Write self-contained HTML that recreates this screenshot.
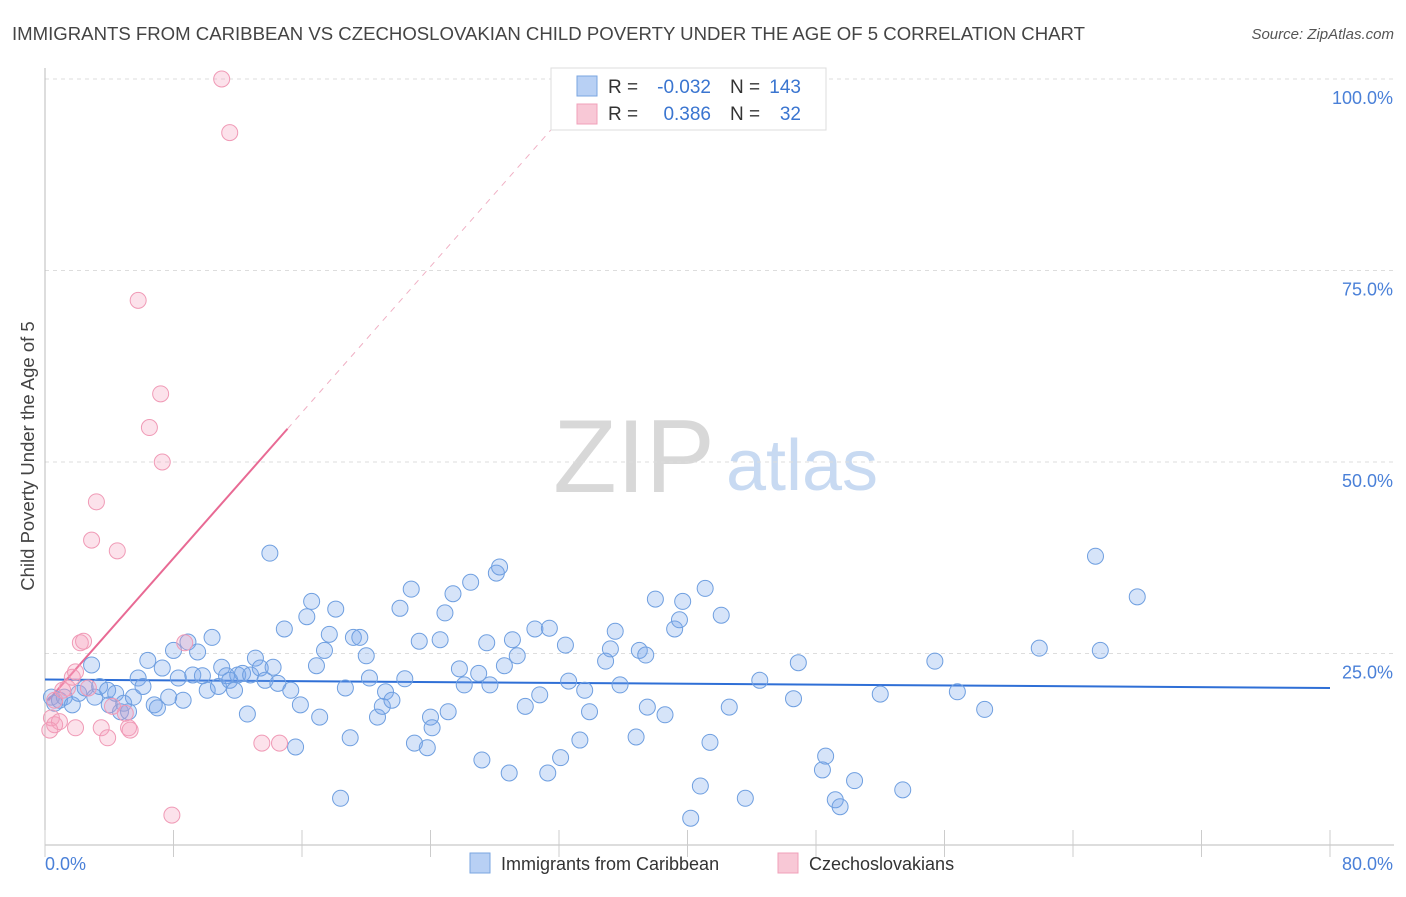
<!DOCTYPE html>
<html><head><meta charset="utf-8"><style>
body{margin:0;background:#fff;font-family:"Liberation Sans",sans-serif;}
svg text{font-family:"Liberation Sans",sans-serif;}
</style></head><body>
<svg id="chart" width="1406" height="892" xmlns="http://www.w3.org/2000/svg">
<text x="12" y="40" font-size="18" fill="#444" textLength="1073" lengthAdjust="spacingAndGlyphs">IMMIGRANTS FROM CARIBBEAN VS CZECHOSLOVAKIAN CHILD POVERTY UNDER THE AGE OF 5 CORRELATION CHART</text>
<text x="1394" y="39" font-size="15" fill="#555" text-anchor="end" font-style="italic">Source: ZipAtlas.com</text>
<g>
<text x="634" y="492" font-size="104" fill="#d8d8d8" text-anchor="middle" font-family="Liberation Serif">ZIP</text>
<text x="802" y="490" font-size="72" fill="#c8daf2" text-anchor="middle">atlas</text>
</g>
<g id="grid"></g><g id="axes"></g><g id="trends"></g><g id="points"></g>
<text transform="translate(34,456) rotate(-90)" font-size="18.5" fill="#444" text-anchor="middle">Child Poverty Under the Age of 5</text>
<g>
<rect x="551" y="68" width="275" height="62" fill="#fff" stroke="#ddd"/>
<rect x="577" y="76" width="20" height="20" fill="#b8d0f4" stroke="#7aa6e0"/>
<rect x="577" y="104" width="20" height="20" fill="#f8c8d6" stroke="#f0a0ba"/>
<text x="608" y="93" font-size="19" fill="#333">R =</text>
<text x="711" y="93" font-size="19" fill="#3a75d0" text-anchor="end">-0.032</text>
<text x="730" y="93" font-size="19" fill="#333">N =</text>
<text x="801" y="93" font-size="19" fill="#3a75d0" text-anchor="end">143</text>
<text x="608" y="120" font-size="19" fill="#333">R =</text>
<text x="711" y="120" font-size="19" fill="#3a75d0" text-anchor="end">0.386</text>
<text x="730" y="120" font-size="19" fill="#333">N =</text>
<text x="801" y="120" font-size="19" fill="#3a75d0" text-anchor="end">32</text>
</g>
<g>
<rect x="470" y="853" width="20" height="20" fill="#b8d0f4" stroke="#7aa6e0"/>
<text x="501" y="870" font-size="18" fill="#333">Immigrants from Caribbean</text>
<rect x="778" y="853" width="20" height="20" fill="#f8c8d6" stroke="#f0a0ba"/>
<text x="809" y="870" font-size="18" fill="#333">Czechoslovakians</text>
</g>
</svg>
<script>
const blueX=[0.4,0.6,0.9,1.2,1.7,2.1,2.5,2.9,3.1,3.4,3.9,4.0,4.4,4.7,4.9,5.2,5.5,5.8,6.1,6.4,6.8,7.0,7.3,7.7,8.0,8.3,8.6,8.9,9.2,9.5,9.8,10.1,10.4,10.8,11.0,11.3,11.5,11.8,12.0,12.3,12.6,12.8,13.1,13.4,13.7,14.0,14.2,14.5,14.9,15.3,15.6,15.9,16.3,16.6,16.9,17.1,17.4,17.7,18.1,18.4,18.7,19.0,19.2,19.6,20.0,20.2,20.7,21.0,21.2,21.6,22.1,22.4,22.8,23.0,23.3,23.8,24.0,24.1,24.6,24.9,25.1,25.4,25.8,26.1,26.5,27.0,27.2,27.5,27.7,28.1,28.3,28.6,28.9,29.1,29.4,29.9,30.5,30.8,31.3,31.4,32.1,32.4,32.6,33.3,33.6,33.9,34.9,35.2,35.5,35.8,36.8,37.0,37.4,37.5,38.0,38.6,39.2,39.5,39.7,40.2,40.8,41.1,41.4,42.1,42.6,43.6,44.5,46.6,46.9,48.4,48.6,49.2,49.5,50.4,52.0,53.4,55.4,56.8,58.5,61.9,65.4,65.7,68.0];
const blueY=[19.3,18.5,18.9,19.3,18.3,19.8,20.5,23.5,19.3,20.7,20.2,18.3,19.8,17.4,18.5,17.4,19.3,21.8,20.7,24.1,18.3,17.9,23.1,19.3,25.4,21.8,18.9,26.5,22.2,25.2,22.1,20.2,27.1,20.7,23.2,22.1,21.5,20.2,22.2,22.4,17.1,22.2,24.4,23.1,21.5,38.1,23.2,21.1,28.2,20.2,12.8,18.3,29.8,31.8,23.4,16.7,25.4,27.5,30.8,6.1,20.5,14.0,27.1,27.1,24.7,21.8,16.7,18.1,20.0,18.9,30.9,21.7,33.4,13.3,26.6,12.7,16.7,15.3,26.8,30.3,17.4,32.8,23.0,20.9,34.3,22.4,11.1,26.4,20.9,35.5,36.3,23.4,9.4,26.8,24.7,18.1,28.2,19.6,9.4,28.3,11.4,26.1,21.4,13.7,20.2,17.4,24.0,25.6,27.9,20.9,14.1,25.4,24.8,18.0,32.1,17.0,28.2,29.4,31.8,3.5,7.7,33.5,13.4,30.0,18.0,6.1,21.5,19.1,23.8,9.8,11.6,5.9,5.0,8.4,19.7,7.2,24.0,20.0,17.7,25.7,37.7,25.4,32.4];
const pinkX=[0.4,0.6,0.9,0.3,1.7,1.9,1.4,1.9,2.2,2.4,2.7,2.9,3.2,3.5,3.9,4.2,4.5,5.2,5.3,5.8,6.5,7.2,7.3,7.9,8.7,11.0,11.5,13.5,14.6,0.6,1.1,5.0];
const pinkY=[16.6,15.7,16.1,15.0,21.9,22.6,20.5,15.3,26.4,26.6,20.5,39.8,44.8,15.3,14.0,18.1,38.4,15.3,15.0,71.1,54.5,58.9,50.0,3.9,26.4,100,93.0,13.3,13.3,18.9,20.2,17.2];
const xTicks=[0,8,16,24,32,40,48,56,64,72,80];
const yTicks=[25,50,75,100];
const yTickLabels=["25.0%","50.0%","75.0%","100.0%"];
const blueTrend=[21.6,20.5];
const pinkTrendIntercept=18.4, pinkTrendSlope=2.38, pinkSolidEnd=15.1, pinkDashEnd=31.8;

const NS="http://www.w3.org/2000/svg";
const X=v=>45+v*(1285/80);
const Y=v=>845-v*7.66;
function mk(tag,attrs,parent){const e=document.createElementNS(NS,tag);for(const k in attrs)e.setAttribute(k,attrs[k]);document.getElementById(parent).appendChild(e);return e;}
yTicks.forEach((t,i)=>{
 const g=mk('line',{x1:45,x2:1394,y1:Y(t),y2:Y(t),stroke:'#ddd','stroke-dasharray':'4,4'},'grid');
 
 
 const l=mk('text',{x:1393,y:Y(t)+25,'font-size':18,fill:'#4a80d8','text-anchor':'end'},'axes');
 l.textContent=yTickLabels[i];
 
 
});
const ax=mk('line',{x1:45,x2:45,y1:68,y2:845,stroke:'#bbb'},'axes');


const bx=mk('line',{x1:45,x2:1394,y1:845,y2:845,stroke:'#bbb'},'axes');


xTicks.forEach(t=>{
 const k=mk('line',{x1:X(t),x2:X(t),y1:830,y2:857,stroke:'#ccc'},'axes');
 
 
});
const x0=mk('text',{x:45,y:870,'font-size':18,fill:'#4a80d8'},'axes');x0.textContent='0.0%';


const x1=mk('text',{x:1393,y:870,'font-size':18,fill:'#4a80d8','text-anchor':'end'},'axes');x1.textContent='80.0%';


blueX.forEach((v,i)=>{
 const c=mk('circle',{cx:X(v),cy:Y(blueY[i]),r:8,fill:'rgba(120,165,235,0.3)',stroke:'#6f9fe0','stroke-width':1},'points');
 
 
});
pinkX.forEach((v,i)=>{
 const c=mk('circle',{cx:X(v),cy:Y(pinkY[i]),r:8,fill:'rgba(245,160,190,0.3)',stroke:'#f09ab6','stroke-width':1},'points');
 
 
});
const bt=mk('line',{x1:X(0),y1:Y(blueTrend[0]),x2:X(80),y2:Y(blueTrend[1]),stroke:'#2f6fd6','stroke-width':2},'trends');


const pf=v=>pinkTrendIntercept+pinkTrendSlope*v;
const ps=mk('line',{x1:X(0.2),y1:Y(pf(0.2)),x2:X(pinkSolidEnd),y2:Y(pf(pinkSolidEnd)),stroke:'#e86a94','stroke-width':2},'trends');


const pd=mk('line',{x1:X(pinkSolidEnd),y1:Y(pf(pinkSolidEnd)),x2:X(pinkDashEnd),y2:Y(pf(pinkDashEnd)),stroke:'#f0b0c4','stroke-width':1,'stroke-dasharray':'6,6'},'trends');


</script>
</body></html>
